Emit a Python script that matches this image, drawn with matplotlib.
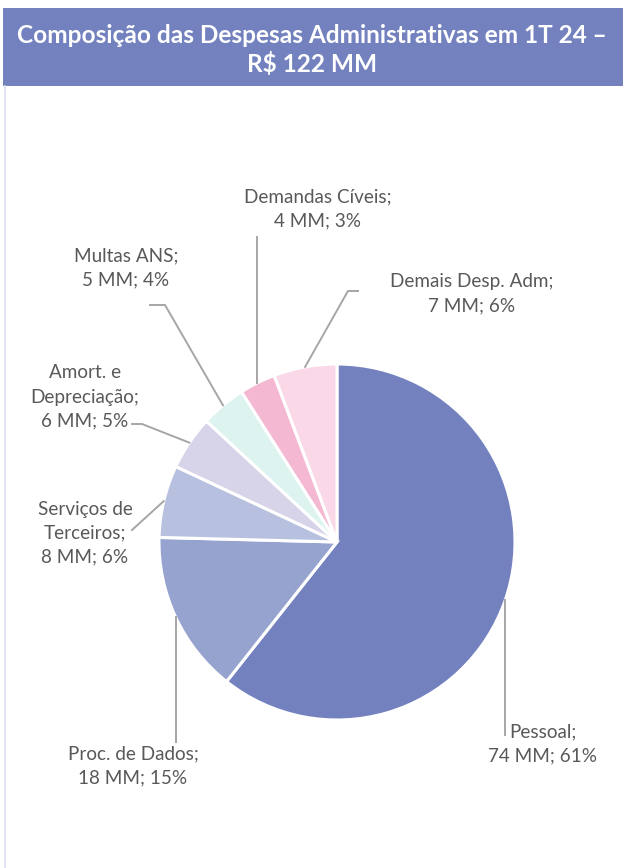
import numpy as np
import matplotlib
matplotlib.use("Agg")
import matplotlib.pyplot as plt
from matplotlib.patches import Rectangle
from matplotlib.lines import Line2D

# ---- data ----
categories = ["Pessoal", "Proc. de Dados", "Serviços de\nTerceiros", "Amort. e\nDepreciação",
              "Multas ANS", "Demandas Cíveis", "Demais Desp. Adm"]
values_mm = [74, 18, 8, 6, 5, 4, 7]
percent_labels = ["61%", "15%", "6%", "5%", "4%", "3%", "6%"]
colors = ["#7382BF", "#97A3CF", "#B8C0DF", "#D7D3E9", "#DDF3EF", "#F5B8D3", "#FAD8E8"]
title = "Composição das Despesas Administrativas em 1T 24 –\nR$ 122 MM"

plt.rcParams['font.family'] = ['Lato', 'DejaVu Sans']

W, H = 623, 868
fig = plt.figure(figsize=(W / 100, H / 100), dpi=100)
ax = fig.add_axes([0, 0, 1, 1])

def Y(y):
    return H - y

cx, cy, R = 337, 542, 178
wedges, _ = ax.pie(values_mm, colors=colors, startangle=90, counterclock=False,
                   center=(cx, Y(cy)), radius=R,
                   wedgeprops=dict(edgecolor="white", linewidth=2.2))
ax.set_xlim(0, W)
ax.set_ylim(0, H)
ax.set_aspect("equal")
ax.axis("off")

# banner
ax.add_patch(Rectangle((3, Y(86)), W - 3, 78, facecolor="#7382BF", edgecolor="none", zorder=0))
ax.text(312, Y(50), title, ha="center", va="center", color="white",
        fontsize=17.6, fontweight="bold", linespacing=1.22)
# left frame line
ax.add_line(Line2D([4.5, 4.5], [0, Y(86)], color="#DCE0F2", lw=1.2))

# label layout: (text center x, text center y, path points after the wedge edge)
layout = [
    (543, 744, [(None, 735)]),                 # vertical
    (133, 766, [(None, 742)]),                 # vertical
    (85, 533, [(132, 530)]),
    (85, 397, [(142, 424), (132, 424)]),
    (126, 268, [(165, 305), (150, 305)]),
    (318, 209, [(None, 237)]),
    (472, 294, [(348, 291), (358, 291)]),
]

line_color = "#A6A6A6"
text_color = "#595959"
for w, cat, v, p, (tx, ty, pts) in zip(wedges, categories, values_mm, percent_labels, layout):
    ang = np.deg2rad((w.theta1 + w.theta2) / 2)
    sx = w.center[0] + w.r * np.cos(ang)
    sy = w.center[1] + w.r * np.sin(ang)
    xs, ys = [sx], [sy]
    for (px, py) in pts:
        xs.append(sx if px is None else px)
        ys.append(Y(py))
    ax.add_line(Line2D(xs, ys, color=line_color, lw=1.4, zorder=1))
    ax.text(tx, Y(ty), f"{cat};\n{v} MM; {p}", ha="center", va="center",
            color=text_color, fontsize=13.6, linespacing=1.5, zorder=3)

fig.savefig("out.png", dpi=100, facecolor="white")
